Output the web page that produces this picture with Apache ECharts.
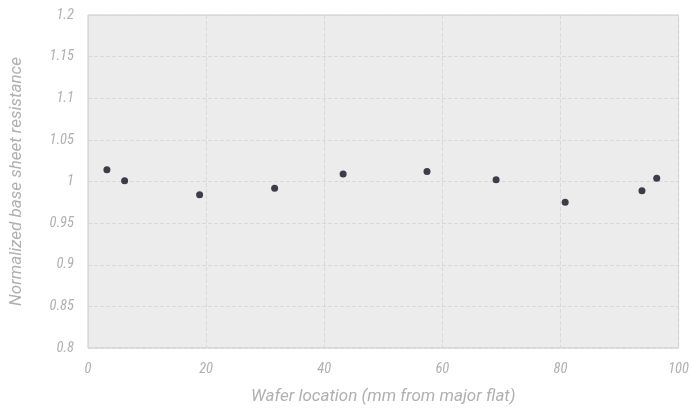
<!DOCTYPE html>
<html><head><meta charset="utf-8">
<script src="https://cdn.jsdelivr.net/npm/echarts@6/dist/echarts.min.js"></script>
<style>html,body{margin:0;padding:0;background:#fff}#c{width:692px;height:410px}</style>
</head><body><div id="c"></div>
<script>
const xValues = [3.2, 6.2, 18.9, 31.6, 43.2, 57.4, 69.1, 80.8, 93.8, 96.3];
const yValues = [1.014, 1.001, 0.984, 0.992, 1.009, 1.012, 1.002, 0.975, 0.989, 1.004];
const xTicks = [0, 20, 40, 60, 80, 100];
const yTicks = [0.8, 0.85, 0.9, 0.95, 1, 1.05, 1.1, 1.15, 1.2];
const xName = 'Wafer location (mm from major flat)';
const yName = 'Normalized base sheet resistance';

const font = "'Roboto Condensed', 'Liberation Sans Narrow', 'Noto Sans', sans-serif";
const nameFont = "Roboto, 'Noto Sans', sans-serif";
const txt = { color: '#b0b0b0', fontStyle: 'italic', fontFamily: font, fontSize: 14.5 };
const nameTxt = { color: '#b0b0b0', fontStyle: 'italic', fontFamily: nameFont, fontSize: 17 };
const chart = echarts.init(document.getElementById('c'));
chart.setOption({
  animation: false,
  grid: { left: 88, right: 12, top: 15, bottom: 61, show: true, backgroundColor: '#ececec', borderColor: '#c8c8c8', borderWidth: 1 },
  xAxis: {
    type: 'value', min: 0, max: 100, interval: 20,
    name: xName, nameLocation: 'middle', nameGap: 40,
    nameTextStyle: nameTxt,
    axisLine: { show: false }, axisTick: { show: false },
    axisLabel: Object.assign({}, txt, { margin: 14, formatter: v => xTicks.includes(v) ? String(v) : '' }),
    splitLine: { show: true, lineStyle: { color: '#d8d8d8', type: 'dashed', width: 1 } }
  },
  yAxis: {
    type: 'value', min: 0.8, max: 1.2, interval: 0.05,
    name: yName, nameLocation: 'middle', nameGap: 63,
    nameTextStyle: nameTxt,
    axisLine: { show: false }, axisTick: { show: false },
    axisLabel: Object.assign({}, txt, { margin: 14, formatter: v => { const t = yTicks.find(k => Math.abs(k - v) < 1e-6); return t === undefined ? '' : String(t); } }),
    splitLine: { show: true, lineStyle: { color: '#d8d8d8', type: 'dashed', width: 1 } }
  },
  series: [{
    type: 'scatter', symbol: 'circle', symbolSize: 7,
    itemStyle: { color: '#111122' },
    data: xValues.map((x, i) => [x, yValues[i]])
  }]
});
</script></body></html>
